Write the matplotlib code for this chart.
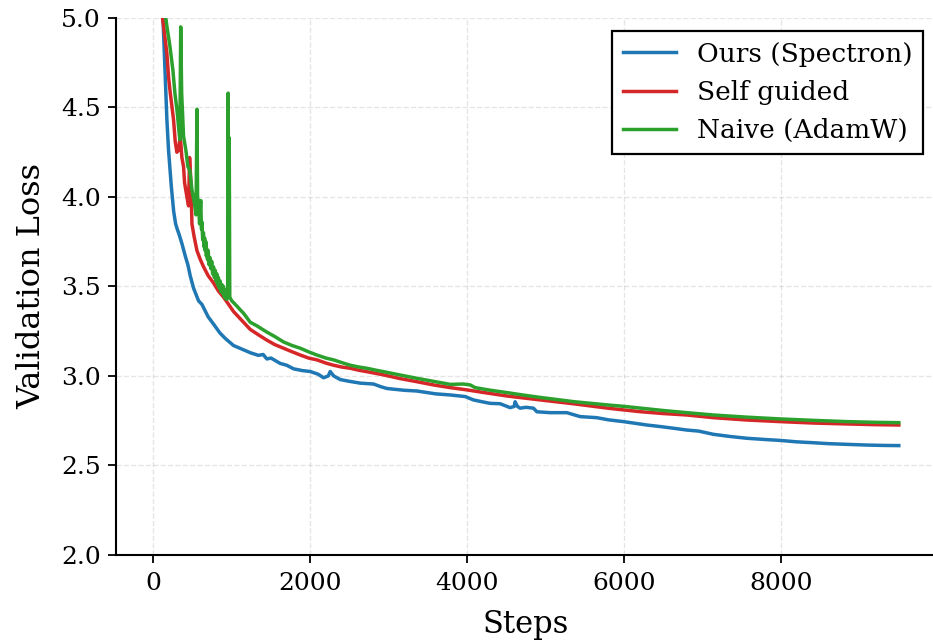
import matplotlib
matplotlib.use('Agg')
import matplotlib.pyplot as plt

plt.rcParams['font.family'] = 'DejaVu Serif'

# Ours (Spectron)
ours_steps = [100, 124, 153, 174, 195, 230, 260, 285, 306, 330, 365, 408, 442, 471, 514,
              577, 620, 700, 768, 850, 917, 1023, 1130, 1236, 1340, 1400, 1448, 1500, 1618,
              1700, 1788, 1900, 2000, 2100, 2170, 2230, 2255, 2300, 2382, 2500, 2637, 2807,
              2900, 2977, 3200, 3359, 3600, 3783, 3975, 4081, 4200, 4293, 4420, 4548, 4600,
              4611, 4640, 4675, 4750, 4845, 4888, 5057, 5270, 5439, 5651, 5800, 5991, 6150,
              6289, 6450, 6628, 6798, 6950, 7138, 7350, 7562, 7800, 7987, 8200, 8412, 8600,
              8837, 9100, 9300, 9500]
ours_loss = [5.30, 5.00, 4.67, 4.43, 4.26, 4.06, 3.92, 3.85, 3.82, 3.79, 3.74, 3.67, 3.62,
             3.56, 3.49, 3.42, 3.40, 3.33, 3.29, 3.24, 3.21, 3.17, 3.15, 3.13, 3.115, 3.12,
             3.095, 3.10, 3.07, 3.06, 3.04, 3.03, 3.025, 3.01, 2.99, 3.00, 3.025, 3.00, 2.98,
             2.97, 2.96, 2.955, 2.94, 2.93, 2.92, 2.916, 2.90, 2.894, 2.885, 2.866, 2.855,
             2.847, 2.845, 2.823, 2.83, 2.856, 2.83, 2.82, 2.825, 2.82, 2.80, 2.795, 2.795,
             2.773, 2.767, 2.755, 2.745, 2.735, 2.726, 2.718, 2.708, 2.698, 2.692, 2.674,
             2.662, 2.652, 2.645, 2.64, 2.632, 2.627, 2.622, 2.618, 2.614, 2.612, 2.611]

# Self guided
self_steps = [100, 119, 174, 195, 217, 259, 280, 301, 322, 344, 365, 386, 399, 429, 450,
              463, 480, 493, 520, 557, 600, 641, 700, 768, 830, 896, 960, 1023, 1108, 1236,
              1340, 1448, 1550, 1660, 1770, 1873, 1980, 2085, 2200, 2297, 2400, 2510, 2620,
              2722, 2830, 2935, 3150, 3359, 3570, 3783, 4000, 4250, 4509, 4720, 4934, 5150,
              5367, 5580, 5792, 6000, 6217, 6500, 6798, 7138, 7562, 7987, 8412, 8837, 9200,
              9500]
self_loss = [5.10, 5.00, 4.80, 4.67, 4.58, 4.43, 4.31, 4.25, 4.26, 4.34, 4.22, 4.17, 4.08,
             4.00, 3.95, 4.22, 4.08, 3.85, 3.78, 3.70, 3.65, 3.61, 3.56, 3.52, 3.475, 3.44,
             3.40, 3.36, 3.32, 3.26, 3.23, 3.20, 3.175, 3.155, 3.135, 3.117, 3.10, 3.09,
             3.072, 3.06, 3.05, 3.043, 3.032, 3.024, 3.015, 3.006, 2.985, 2.968, 2.95, 2.935,
             2.922, 2.905, 2.888, 2.877, 2.866, 2.855, 2.844, 2.832, 2.82, 2.81, 2.80, 2.79,
             2.782, 2.767, 2.754, 2.745, 2.737, 2.732, 2.728, 2.726]

# Naive (AdamW)
naive_steps = [130, 160, 175, 210, 250, 276, 306, 327, 339, 350, 362, 386, 416, 441, 465,
               493, 527, 545, 557, 565, 578, 590, 605, 615, 620, 630, 640, 648, 655, 662,
               670, 677, 684, 692, 700, 713, 726, 735, 745, 757, 768, 779, 790, 800, 811,
               820, 830, 842, 853, 864, 875, 885, 895, 906, 917, 926, 935, 942, 948, 955,
               962, 968, 975, 1000, 1045, 1108, 1151, 1236, 1321, 1448, 1550, 1660, 1770,
               1873, 1980, 2085, 2200, 2297, 2400, 2510, 2620, 2722, 2830, 2935, 3150, 3359,
               3570, 3783, 3950, 4038, 4100, 4300, 4509, 4720, 4934, 5150, 5367, 5580, 5792,
               6000, 6217, 6500, 6798, 7138, 7562, 7987, 8412, 8837, 9200, 9500]
naive_loss = [5.15, 5.00, 4.95, 4.85, 4.71, 4.58, 4.47, 4.37, 4.32, 4.95, 4.58, 4.34, 4.26,
              4.17, 4.15, 4.04, 3.96, 3.90, 4.49, 4.00, 3.96, 3.85, 3.98, 3.82, 3.86, 3.76,
              3.80, 3.72, 3.77, 3.70, 3.75, 3.67, 3.71, 3.65, 3.70, 3.62, 3.66, 3.60, 3.64,
              3.57, 3.61, 3.55, 3.59, 3.53, 3.57, 3.51, 3.55, 3.49, 3.53, 3.47, 3.51, 3.46,
              3.50, 3.44, 3.48, 3.43, 3.47, 3.43, 3.45, 4.58, 3.44, 4.33, 3.44, 3.42, 3.40,
              3.37, 3.35, 3.30, 3.28, 3.245, 3.22, 3.19, 3.17, 3.155, 3.135, 3.117, 3.10,
              3.09, 3.075, 3.06, 3.05, 3.043, 3.033, 3.024, 3.005, 2.987, 2.97, 2.953, 2.955,
              2.95, 2.935, 2.92, 2.907, 2.893, 2.88, 2.868, 2.856, 2.847, 2.838, 2.83, 2.82,
              2.807, 2.795, 2.782, 2.77, 2.76, 2.752, 2.745, 2.741, 2.739]

fig = plt.figure(figsize=(9.33, 6.41), dpi=100)
ax = fig.add_axes([0.1243, 0.1342, 0.879, 0.8378])

ax.plot(ours_steps, ours_loss, color='#1f77b4', linewidth=2.5, label='Ours (Spectron)')
ax.plot(self_steps, self_loss, color='#d62728', linewidth=2.5, label='Self guided')
ax.plot(naive_steps, naive_loss, color='#2ca02c', linewidth=2.5, label='Naive (AdamW)')

ax.set_xlim(-475, 9975)
ax.set_ylim(2.0, 5.0)
ax.set_xticks([0, 2000, 4000, 6000, 8000])
ax.set_yticks([2.0, 2.5, 3.0, 3.5, 4.0, 4.5, 5.0])
ax.tick_params(labelsize=18, length=6, width=1.3)
ax.tick_params(axis='x', pad=6)
ax.tick_params(axis='y', pad=5)

ax.set_xlabel('Steps', fontsize=22, labelpad=10)
ax.set_ylabel('Validation Loss', fontsize=23, labelpad=10)

ax.spines['top'].set_visible(False)
ax.spines['right'].set_visible(False)
ax.spines['left'].set_linewidth(1.5)
ax.spines['bottom'].set_linewidth(1.5)
ax.grid(True, linestyle='--', color='gray', alpha=0.2, linewidth=1)

leg = ax.legend(loc='upper right', fontsize=19, fancybox=False, framealpha=1,
                edgecolor='black')
leg.get_frame().set_linewidth(1.6)

fig.savefig('out.png', dpi=100)
